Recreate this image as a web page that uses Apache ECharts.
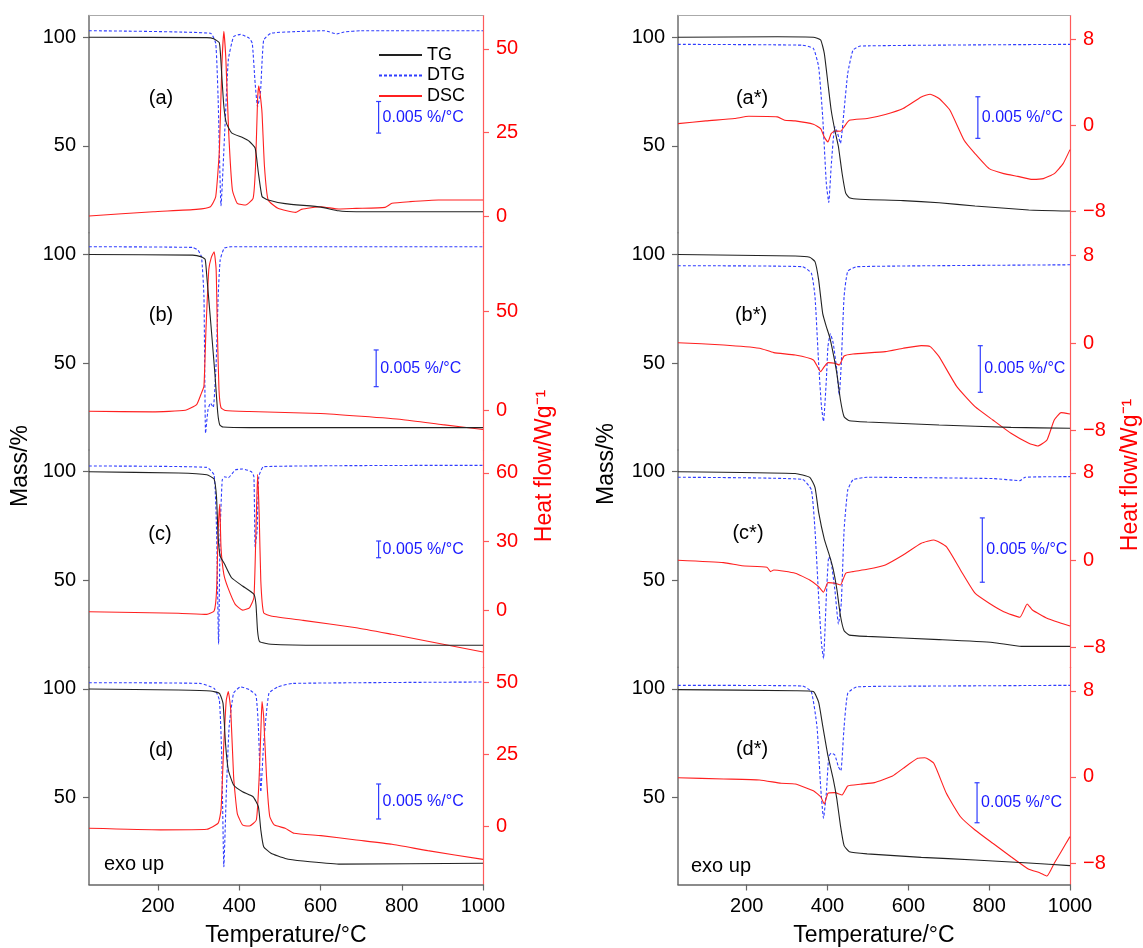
<!DOCTYPE html>
<html>
<head>
<meta charset="utf-8">
<script src="https://cdn.jsdelivr.net/npm/echarts@6/dist/echarts.min.js"></script>
<style>
  html, body { margin: 0; padding: 0; background: #fff; }
  #chart { width: 1143px; height: 948px; }
</style>
</head>
<body>
<div id="chart"></div>
<script>
// TG in %, DTG in 10^-3 %/°C, DSC in W/g; pairs are [temperature °C, value]
const tgA = [[30,100],[320,99.8],[337,99.3],[351,97.4],[357,82],[362,68.2],[368,60.6],[381,56],[408,53.8],[425,52],[439,49],[447,37.6],[456,26.7],[469,25.2],[513,23.4],[601,21.8],[644,20.1],[688,19.7],[1000,19.7]];
const dtgA = [[30,0],[329,-0.4],[342,-2],[348,-11],[355,-27.7],[364,-16.2],[373,-4.6],[386,-0.95],[403,-0.57],[425,-1.2],[432,-2],[439,-8.3],[445,-12],[452,-9.9],[460,-1.5],[478,-0.4],[531,-0.16],[610,0],[640,-0.5],[658,-0.2],[700,0],[1000,0]];
const dscA = [[30,0],[188,1.3],[294,2],[329,2.8],[342,5.8],[351,19.8],[357,44.8],[362,55.3],[367,46.8],[374,24.8],[383,7.8],[395,3.8],[416,3.3],[434,5.3],[440,14.8],[445,34.8],[448,39],[452,35.8],[456,30.8],[462,14.8],[471,4.8],[495,2.3],[539,1.1],[553,2],[601,2.8],[645,2.1],[688,2.3],[759,2.6],[776,3.8],[820,4.3],[890,4.8],[1000,4.8]];

const tgB = [[30,100],[285,99.7],[307,98.9],[316,97.7],[320,90],[330,68],[340,45],[347,27],[352,21.5],[360,20.6],[425,20.3],[1000,20.3]];
const dtgB = [[30,0],[285,-0.1],[298,-0.45],[307,-1.4],[313,-6.8],[317,-25.4],[323,-22.2],[329,-21.3],[336,-21.9],[343,-15.9],[348,-6.8],[353,-1.8],[363,-0.2],[380,0],[1000,0]];
const dscB = [[30,-0.5],[186,-0.8],[267,0],[295,2.9],[307,8.8],[313,12.2],[318,40.8],[325,71.1],[331,77],[338,79.9],[343,71],[346,40.8],[350,10.5],[355,1.3],[366,-0.1],[425,-0.6],[600,-1.6],[700,-3],[800,-4.6],[900,-7.2],[1000,-9.7]];

const tgC = [[30,100],[250,99.4],[320,98.6],[338,96.6],[344,88.1],[348,69.7],[353,61.2],[364,57.4],[381,51.2],[408,47.4],[436,43.6],[441,39],[445,26.7],[450,21.8],[478,20.6],[601,20.1],[1000,20.1]];
const dtgC = [[30,0],[320,-0.4],[338,-2.7],[344,-19.2],[349,-53.3],[353,-19.2],[358,-4.2],[364,-3.2],[373,-3.5],[390,-1.2],[408,-0.9],[430,-1.7],[436,-3.2],[439,-24.2],[444,-19.2],[448,-3.2],[460,-0.2],[1000,0.2]];
const dscC = [[30,-0.7],[250,-1.4],[320,-1.9],[338,-0.4],[344,8.3],[348,34.6],[352,46.3],[355,27.3],[362,15.6],[372,9.8],[390,2.5],[408,0],[425,1],[436,5.4],[441,34.6],[445,59.4],[449,41.9],[453,12.7],[460,-1.2],[478,-2.6],[557,-4.5],[688,-7.7],[776,-10.6],[864,-13.6],[1000,-18.3]];

const tgD = [[30,100],[250,99.5],[329,99.1],[351,98],[360,93.4],[366,75],[373,62.7],[386,55.8],[408,52.7],[434,50.4],[447,45.8],[453,35.1],[460,27.4],[478,24.4],[513,22],[557,20.8],[645,19.4],[1000,19.8]];
const dtgD = [[30,0],[303,-0.1],[338,-0.8],[351,-2.5],[357,-11],[362,-26.3],[368,-15.8],[375,-6.3],[386,-1.5],[403,-0.6],[425,-1],[441,-1.8],[447,-6.3],[453,-15.6],[460,-8.7],[473,-1.5],[495,-0.6],[531,-0.1],[1000,0.1]];
const dscD = [[30,-0.55],[206,-1.1],[320,-0.9],[348,1.2],[355,5.8],[362,28.8],[368,43.8],[373,46.7],[379,40.3],[386,17.3],[395,4.6],[408,0.6],[425,0.2],[442,2.3],[449,17.3],[454,36.9],[456,43.2],[460,38],[467,17.3],[475,3.5],[486,0.6],[513,-0.55],[535,-2.3],[601,-3.1],[688,-4.6],[776,-6.1],[864,-8.3],[1000,-11.3]];

const tgAs = [[30,100],[276,100.2],[365,100],[383,98.7],[392,92.6],[401,78.8],[409,66.5],[418,57.3],[427,49.6],[436,37.4],[445,28.2],[454,26.1],[481,25.4],[587,24.8],[676,23.8],[765,22.3],[898,20.5],[1000,20]];
const dtgAs = [[30,0],[338,-0.1],[365,-0.5],[378,-2.7],[388,-8.7],[397,-16.7],[403,-19],[409,-14.7],[418,-9.9],[425,-10.7],[432,-11.9],[441,-7.9],[450,-3.5],[463,-0.7],[481,-0.2],[1000,0]];
const dscAs = [[30,0.15],[99,0.4],[170,0.62],[205,0.83],[276,0.77],[294,0.46],[320,0.4],[365,0.09],[383,-0.31],[392,-1.1],[401,-1.56],[409,-0.78],[418,-0.54],[432,-0.56],[441,-0.16],[454,0.46],[498,0.62],[543,1],[587,1.55],[632,2.63],[654,2.88],[676,2.48],[703,1.39],[738,-1.4],[765,-2.64],[800,-4.04],[836,-4.5],[871,-4.76],[907,-5.04],[934,-4.97],[961,-4.5],[983,-3.57],[1000,-2.27]];

const tgBs = [[30,100],[320,99.3],[356,98.7],[369,96.7],[378,88.3],[388,72.9],[397,66.8],[405,62.2],[414,54.5],[423,45.3],[432,33],[441,25.3],[454,23.5],[498,22.9],[676,21.5],[854,20.4],[1000,20]];
const dtgBs = [[30,0],[338,-0.1],[360,-0.8],[369,-3.3],[378,-10.5],[385,-15.1],[390,-16.7],[397,-12.3],[401,-8.7],[407,-7.3],[414,-8.3],[423,-11.2],[429,-13.9],[434,-10.5],[441,-3.3],[450,-0.6],[472,-0.1],[1000,0.1]];
const dscBs = [[30,0.03],[143,-0.18],[232,-0.48],[267,-0.88],[320,-1.1],[365,-1.55],[383,-2.62],[392,-2.17],[401,-1.8],[418,-1.86],[429,-2.01],[441,-1.19],[463,-1],[543,-0.79],[587,-0.48],[632,-0.24],[654,-0.33],[676,-1.25],[720,-4],[765,-5.83],[809,-7.05],[854,-8.27],[898,-9.18],[920,-9.43],[943,-8.88],[961,-7.05],[978,-6.38],[1000,-6.5]];

const tgCs = [[30,100],[320,99.2],[356,97.4],[369,92.8],[378,81.3],[392,69],[405,61.3],[414,55.2],[423,46],[432,33.7],[441,26.8],[454,24.8],[498,24.2],[676,22.7],[809,21.4],[880,19.6],[1000,19.6]];
const dtgCs = [[30,0],[338,-0.16],[360,-0.98],[369,-4.1],[378,-9.3],[385,-12.9],[390,-14.1],[397,-9.3],[403,-6.2],[408,-6.4],[418,-8.7],[427,-11.4],[434,-9.8],[441,-4.1],[450,-1],[463,-0.2],[498,0],[809,-0.1],[876,-0.26],[889,0],[1000,0.05]];
const dscCs = [[30,0],[143,-0.22],[188,-0.5],[250,-0.64],[259,-1.04],[267,-0.89],[320,-1.19],[356,-1.8],[378,-2.42],[390,-2.93],[401,-2.05],[418,-2.1],[432,-2.26],[445,-1.19],[463,-1.04],[498,-0.83],[543,-0.43],[587,0.48],[632,1.55],[663,1.86],[694,1.24],[729,-0.89],[765,-3.02],[800,-3.94],[836,-4.71],[876,-5.22],[894,-4],[907,-4.55],[943,-5.31],[1000,-6.02]];

const tgDs = [[30,99.7],[320,99.2],[365,98.8],[378,93.9],[388,83.1],[401,69.3],[414,58.6],[423,49.4],[432,37.1],[441,27.9],[454,25.1],[498,24.1],[632,22.5],[765,21.3],[898,19.9],[1000,18.7]];
const dtgDs = [[30,0],[338,-0.08],[360,-0.8],[374,-5.2],[383,-12.7],[390,-16.6],[397,-13.5],[403,-8.9],[409,-8.5],[418,-8.7],[427,-10.2],[433,-10.7],[441,-5.2],[450,-1],[472,-0.2],[632,-0.1],[1000,0]];
const dscDs = [[30,-0.07],[143,-0.19],[232,-0.28],[285,-0.59],[320,-0.66],[365,-1.28],[383,-1.84],[392,-2.52],[401,-1.52],[418,-1.46],[436,-1.68],[450,-0.84],[481,-0.68],[516,-0.53],[561,0.09],[587,0.8],[623,1.73],[641,1.79],[663,1.27],[694,-1.52],[729,-3.7],[765,-4.93],[809,-6.17],[854,-7.42],[898,-8.59],[925,-8.9],[943,-9.21],[961,-8.03],[978,-6.95],[1000,-5.55]];

const tempTicks = [200, 400, 600, 800, 1000];
const massTicks = [50, 100];
const DTG_BAR = 5; // 0.005 %/°C in 10^-3 units

const FONT = '"Liberation Sans", Arial, Helvetica, sans-serif';
const BLUE = '#2f3cff';
const RED = '#ff2020';

// layout of the 2 x 4 panels
const colLeft = [89, 678];
const colWidth = [394, 392];
const top0 = 15.5;
const panelH = 217.25;

const panels = [
  { label: '(a)', col: 0, row: 0, tg: tgA, dtg: dtgA, dsc: dscA, heat: [-5, 60], heatTicks: [0, 25, 50], dtgRange: [-31.97, 2.41], bar: [743, -16.2] },
  { label: '(b)', col: 0, row: 1, tg: tgB, dtg: dtgB, dsc: dscB, heat: [-20, 89.5], heatTicks: [0, 50], dtgRange: [-27.7, 1.9], bar: [737, -19.07] },
  { label: '(c)', col: 0, row: 2, tg: tgC, dtg: dtgC, dsc: dscC, heat: [-25, 70], heatTicks: [0, 30, 60], dtgRange: [-60.25, 4.79], bar: [743, -27.46] },
  { label: '(d)', col: 0, row: 3, tg: tgD, dtg: dtgD, dsc: dscD, heat: [-20, 55.1], heatTicks: [0, 25, 50], dtgRange: [-28.83, 2.21], bar: [743, -19.47] },
  { label: '(a*)', col: 1, row: 0, tg: tgAs, dtg: dtgAs, dsc: dscAs, heat: [-10, 10.2], heatTicks: [-8, 0, 8], dtgRange: [-22.65, 3.47], bar: [772, -11.3] },
  { label: '(b*)', col: 1, row: 1, tg: tgBs, dtg: dtgBs, dsc: dscBs, heat: [-9.8, 10.1], heatTicks: [-8, 0, 8], dtgRange: [-19.77, 3.54], bar: [778, -13.58] },
  { label: '(c*)', col: 1, row: 2, tg: tgCs, dtg: dtgCs, dsc: dscCs, heat: [-9.8, 10.1], heatTicks: [-8, 0, 8], dtgRange: [-14.77, 2.12], bar: [783, -8.16] },
  { label: '(d*)', col: 1, row: 3, tg: tgDs, dtg: dtgDs, dsc: dscDs, heat: [-10, 10.2], heatTicks: [-8, 0, 8], dtgRange: [-24.9, 2.26], bar: [770, -17.18] }
];

const labelPos = [[161, 98], [161, 315], [160, 534], [161, 750], [752, 98], [751, 315], [748, 533], [752, 749]];

function minusFmt(v) {
  return v < 0 ? '\u2212' + (-v) : String(v);
}

const grid = [];
const xAxis = [];
const yAxis = [];
const series = [];

panels.forEach(function (p, i) {
  const bottom = p.row === 3;
  grid.push({
    left: colLeft[p.col],
    width: colWidth[p.col],
    top: top0 + p.row * panelH,
    height: panelH,
    containLabel: false,
    outerBoundsMode: 'none'
  });
  xAxis.push({
    gridIndex: i,
    type: 'value',
    min: 30,
    max: 1000,
    show: bottom,
    position: 'bottom',
    name: 'Temperature/°C',
    nameLocation: 'middle',
    nameGap: 40,
    nameTextStyle: { fontSize: 23, fontFamily: FONT, color: '#000' },
    axisLine: { show: true, onZero: false, lineStyle: { color: '#666', width: 1.5 } },
    axisTick: { show: true, length: 6, customValues: tempTicks, lineStyle: { color: '#666', width: 1.2 } },
    axisLabel: { customValues: tempTicks, fontSize: 20, fontFamily: FONT, color: '#000', margin: 12, formatter: function (v) { return String(v); } },
    splitLine: { show: false }
  });
  // mass (left)
  yAxis.push({
    gridIndex: i,
    type: 'value',
    position: 'left',
    min: 10,
    max: 110,
    axisLine: { show: true, onZero: false, lineStyle: { color: '#777', width: 1.6 } },
    axisTick: { show: true, length: 6, customValues: massTicks, lineStyle: { color: '#666', width: 1.2 } },
    axisLabel: { customValues: massTicks, fontSize: 20, fontFamily: FONT, color: '#000', margin: 13 },
    splitLine: { show: false }
  });
  // heat flow (right)
  yAxis.push({
    gridIndex: i,
    type: 'value',
    position: 'right',
    min: p.heat[0],
    max: p.heat[1],
    axisLine: { show: true, onZero: false, lineStyle: { color: '#ff5a5a', width: 1.2 } },
    axisTick: { show: true, length: 6, customValues: p.heatTicks, lineStyle: { color: '#ff5a5a', width: 1.2 } },
    axisLabel: { customValues: p.heatTicks, fontSize: 20, fontFamily: FONT, color: '#ff0000', margin: 13, formatter: minusFmt },
    splitLine: { show: false }
  });
  // DTG (no axis drawn, scale bar instead)
  yAxis.push({
    gridIndex: i,
    type: 'value',
    position: 'right',
    show: false,
    min: p.dtgRange[0],
    max: p.dtgRange[1],
    splitLine: { show: false }
  });

  const common = { type: 'line', xAxisIndex: i, symbol: 'none', smooth: 0.15, clip: false, silent: true };
  series.push(Object.assign({}, common, {
    name: 'TG', yAxisIndex: i * 3, data: p.tg, z: 3,
    lineStyle: { color: '#222', width: 1.1 }, itemStyle: { color: '#222' }
  }));
  series.push(Object.assign({}, common, {
    name: 'DTG', yAxisIndex: i * 3 + 2, data: p.dtg, z: 2,
    lineStyle: { color: BLUE, width: 1.1, type: [3, 2] }, itemStyle: { color: BLUE }
  }));
  series.push(Object.assign({}, common, {
    name: 'DSC', yAxisIndex: i * 3 + 1, data: p.dsc, z: 2,
    lineStyle: { color: RED, width: 1.1 }, itemStyle: { color: RED }
  }));
  series.push({
    type: 'line', name: 'scale', xAxisIndex: i, yAxisIndex: i * 3 + 2, silent: true,
    data: [[p.bar[0], p.bar[1]], [p.bar[0], p.bar[1] + DTG_BAR]],
    symbol: 'rect', symbolSize: [5, 1.2], showSymbol: true,
    lineStyle: { color: BLUE, width: 1.2 }, itemStyle: { color: BLUE }
  });
});

// top border of the upper panels
[0, 4].forEach(function (i) {
  xAxis.push({
    gridIndex: i, type: 'value', min: 30, max: 1000, position: 'top',
    axisLine: { show: true, onZero: false, lineStyle: { color: '#aaa', width: 1.2 } },
    axisTick: { show: false }, axisLabel: { show: false }, splitLine: { show: false }
  });
});

const chart = echarts.init(document.getElementById('chart'));
chart.setOption({
  animation: false,
  backgroundColor: '#fff',
  grid: grid,
  xAxis: xAxis,
  yAxis: yAxis,
  series: series,
  legend: {
    data: ['TG', 'DTG', 'DSC'],
    orient: 'vertical',
    left: 373,
    top: 41,
    itemWidth: 43,
    itemHeight: 10,
    itemGap: 2.5,
    itemStyle: { color: 'transparent', borderColor: 'transparent', borderWidth: 0, opacity: 0 },
    textStyle: { fontSize: 18, fontFamily: FONT, color: '#000', lineHeight: 18 }
  }
});

const graphic = [];
panels.forEach(function (p, i) {
  graphic.push({
    type: 'text', x: labelPos[i][0], y: labelPos[i][1], silent: true,
    style: { text: p.label, fontSize: 20, fontFamily: FONT, fill: '#000', align: 'center', verticalAlign: 'middle' }
  });
  const pt = chart.convertToPixel({ xAxisIndex: i, yAxisIndex: i * 3 + 2 }, [p.bar[0], p.bar[1] + DTG_BAR / 2]);
  graphic.push({
    type: 'text', x: pt[0] + 4, y: pt[1], silent: true,
    style: { text: '0.005 %/°C', fontSize: 16, fontFamily: FONT, fill: '#1a1aff', align: 'left', verticalAlign: 'middle' }
  });
});
[[104, 864], [691, 866]].forEach(function (pos) {
  graphic.push({
    type: 'text', x: pos[0], y: pos[1], silent: true,
    style: { text: 'exo up', fontSize: 20, fontFamily: FONT, fill: '#000', align: 'left', verticalAlign: 'middle' }
  });
});
[[21, 466, 'Mass/%', '#000'], [607, 464, 'Mass/%', '#000'],
 [545, 466, 'Heat flow/Wg\u207B\u00B9', '#ff0000'], [1131, 475, 'Heat flow/Wg\u207B\u00B9', '#ff0000']].forEach(function (t) {
  graphic.push({
    type: 'text', x: t[0], y: t[1], rotation: Math.PI / 2, silent: true,
    style: { text: t[2], fontSize: 23, fontFamily: FONT, fill: t[3], align: 'center', verticalAlign: 'middle' }
  });
});
chart.setOption({ graphic: graphic });
</script>
</body>
</html>
